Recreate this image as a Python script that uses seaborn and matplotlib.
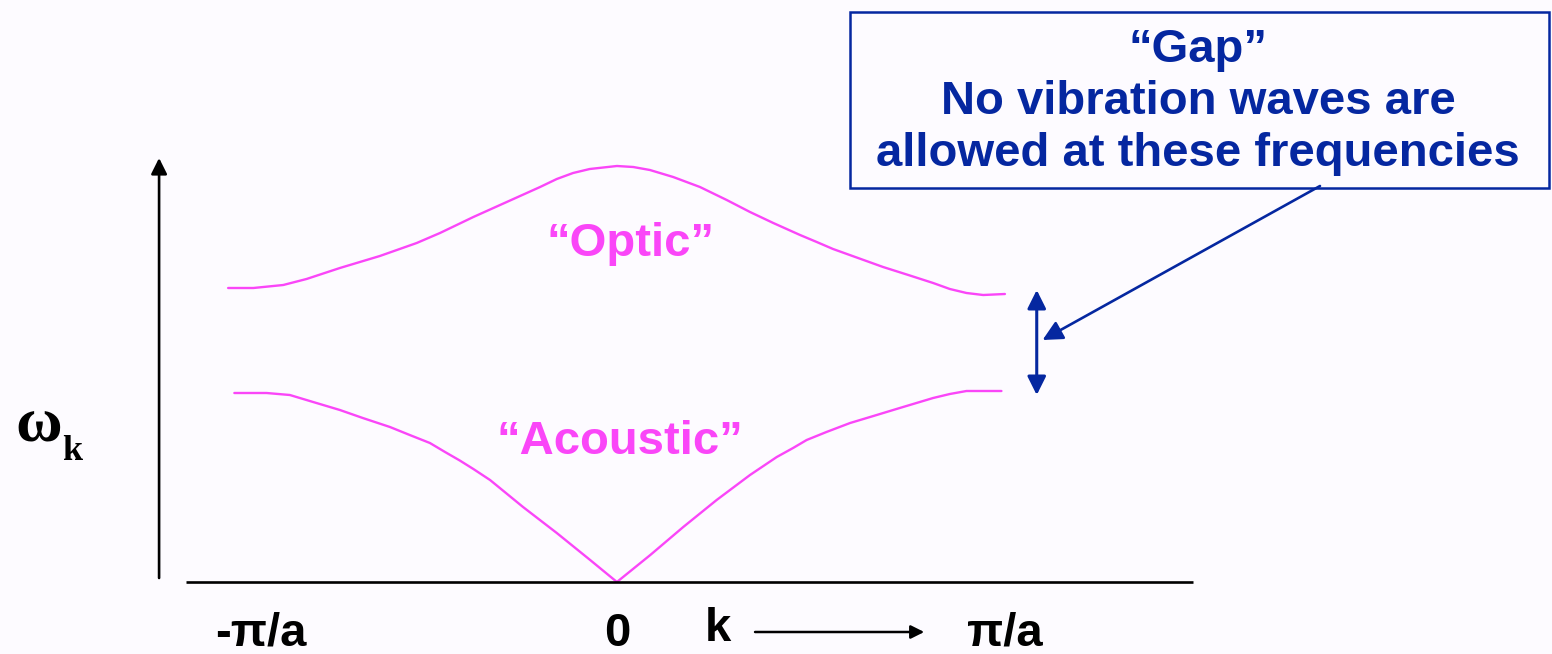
import matplotlib
matplotlib.use('Agg')
import matplotlib.pyplot as plt
from matplotlib.patches import Rectangle
import seaborn as sns
import pandas as pd

# dispersion branches, k in units of pi/a, omega in arbitrary units
k_optic = [-1.002, -0.937, -0.860, -0.800, -0.714, -0.611, -0.516, -0.456, -0.370, -0.284,
           -0.198, -0.155, -0.113, -0.070, 0.0, 0.042, 0.085, 0.145, 0.214, 0.283, 0.343,
           0.403, 0.472, 0.515, 0.557, 0.686, 0.751, 0.815, 0.858, 0.901, 0.944, 1.0]
w_optic = [2.94, 2.94, 2.97, 3.03, 3.14, 3.26, 3.39, 3.49, 3.65, 3.80,
           3.95, 4.03, 4.09, 4.13, 4.16, 4.15, 4.12, 4.05, 3.95, 3.82, 3.70,
           3.59, 3.47, 3.40, 3.33, 3.15, 3.07, 2.99, 2.93, 2.89, 2.87, 2.88]
k_acoustic = [-0.986, -0.946, -0.903, -0.843, -0.783, -0.714, -0.655, -0.585, -0.534, -0.482,
              -0.443, -0.405, -0.370, -0.327, -0.242, -0.155, -0.069, 0.0, 0.086, 0.171,
              0.257, 0.343, 0.412, 0.454, 0.489, 0.540, 0.601, 0.661, 0.729, 0.815, 0.858,
              0.901, 0.944, 0.991]
w_acoustic = [1.89, 1.89, 1.89, 1.87, 1.80, 1.72, 1.64, 1.55, 1.47, 1.39,
              1.30, 1.215, 1.13, 1.02, 0.75, 0.49, 0.22, 0.0, 0.27, 0.55,
              0.82, 1.07, 1.25, 1.34, 1.42, 1.50, 1.59, 1.66, 1.74, 1.84, 1.88,
              1.91, 1.91, 1.91]
branch_labels = ['\u201cOptic\u201d', '\u201cAcoustic\u201d']
tick_labels = ['-\u03c0/a', '0', '\u03c0/a']
box_lines = ['\u201cGap\u201d', 'No vibration waves are', 'allowed at these frequencies']

MAGENTA = '#FA46F8'
BLUE = '#0527A0'
BG = '#FDFBFF'

df = pd.concat([
    pd.DataFrame({'k': k_optic, 'omega': w_optic, 'branch': 'optic'}),
    pd.DataFrame({'k': k_acoustic, 'omega': w_acoustic, 'branch': 'acoustic'}),
])

sns.set_theme(style='white')
plt.rcParams['font.family'] = ['Liberation Sans', 'DejaVu Sans']

fig = plt.figure(figsize=(15.52, 6.54), dpi=100, facecolor=BG)
ax = fig.add_axes([0, 0, 1, 1])
ax.set_facecolor(BG)

sns.lineplot(data=df, x='k', y='omega', hue='branch', units='branch', estimator=None,
             palette={'optic': MAGENTA, 'acoustic': MAGENTA}, linewidth=1.7,
             legend=False, ax=ax)
for ln in ax.get_lines():
    ln.set_solid_joinstyle('round')

ax.set_xlim(-1.590, 2.410)
ax.set_ylim(-0.72, 5.82)
ax.axis('off')

# axes drawn as arrows
ax.plot([-1.111, 1.485], [0, 0], color='black', lw=1.9, solid_capstyle='butt')
ax.annotate('', xy=(-1.180, 4.24), xytext=(-1.180, 0.04),
            arrowprops=dict(arrowstyle='-|>', color='black', lw=1.9, mutation_scale=24, shrinkA=0, shrinkB=0))

# branch labels
ax.text(0.035, 3.38, branch_labels[0], color=MAGENTA, fontsize=34, fontweight='bold', ha='center', va='center')
ax.text(0.008, 1.40, branch_labels[1], color=MAGENTA, fontsize=34, fontweight='bold', ha='center', va='center')

# axis labels
ax.text(-1.550, 1.56, '\u03c9', family='Liberation Serif', fontsize=46, fontweight='bold',
        ha='left', va='center', color='black')
ax.text(-1.430, 1.31, 'k', family='Liberation Serif', fontsize=26, fontweight='bold',
        ha='left', va='center', color='black')

tick_y = -0.52
ax.text(-0.918, tick_y, tick_labels[0], fontsize=34, fontweight='bold', ha='center', va='center', color='black')
ax.text(0.0, tick_y, tick_labels[1], fontsize=34, fontweight='bold', ha='center', va='center', color='black')
ax.text(1.0, tick_y, tick_labels[2], fontsize=34, fontweight='bold', ha='center', va='center', color='black')
ax.text(0.26, tick_y + 0.05, 'k', fontsize=34, fontweight='bold', ha='center', va='center', color='black')
ax.annotate('', xy=(0.792, -0.50), xytext=(0.356, -0.50),
            arrowprops=dict(arrowstyle='-|>', color='black', lw=1.8, mutation_scale=20, shrinkA=0, shrinkB=0))

# gap double arrow between branch ends
ax.annotate('', xy=(1.082, w_optic[-1] + 0.04), xytext=(1.082, w_acoustic[-1] - 0.04),
            arrowprops=dict(arrowstyle='<|-|>', color=BLUE, lw=2.2, mutation_scale=28, shrinkA=0, shrinkB=0))
ax.annotate('', xy=(1.097, 2.42), xytext=(1.812, 3.96),
            arrowprops=dict(arrowstyle='-|>', color=BLUE, lw=1.9, mutation_scale=30, shrinkA=0, shrinkB=0))

# text box
fig.patches.append(Rectangle((850 / 1552, 1 - 188 / 654), (1549 - 850) / 1552, (188 - 12) / 654,
                             transform=fig.transFigure, facecolor='none', edgecolor=BLUE, lw=1.8))
for i, line in enumerate(box_lines):
    fig.text(1198 / 1552, 1 - (50 + 52 * i) / 654, line, color=BLUE, fontsize=34, fontweight='bold',
             ha='center', va='center')

fig.savefig('out.png', dpi=100, facecolor=BG)
